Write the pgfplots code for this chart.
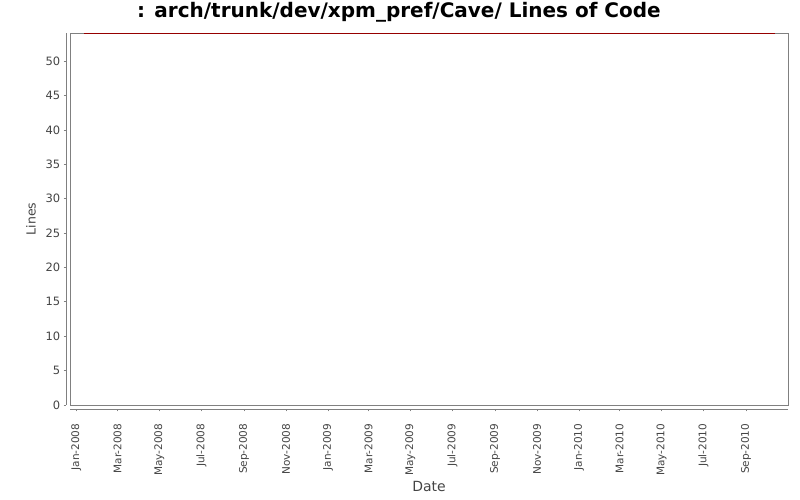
\documentclass[border=0pt]{standalone}
\usepackage{fontspec}
\setmainfont{DejaVu Sans}
\usepackage{pgfplots}
\pgfplotsset{compat=1.18}
\definecolor{linered}{RGB}{150,0,0}
\definecolor{axgray}{RGB}{128,128,128}
\definecolor{txtgray}{RGB}{68,68,68}
\begin{document}
\begin{tikzpicture}[x=1pt,y=1pt]
\useasboundingbox (0,0) rectangle (800,500);
\begin{axis}[
  at={(70pt,95pt)}, anchor=south west,
  width=718pt, height=372pt, scale only axis,
  xmin=-9, xmax=1035, ymin=0, ymax=54.1,
  axis lines*=left,
  axis x line shift=4pt, axis y line shift=4pt,
  axis line style={axgray, line width=0.8pt, -},
  axis background/.style={draw=axgray, line width=0.8pt},
  xtick={0,60,121,182,244,305,366,425,486,547,609,670,731,790,851,912,974},
  xticklabels={Jan-2008,Mar-2008,May-2008,Jul-2008,Sep-2008,Nov-2008,Jan-2009,Mar-2009,May-2009,Jul-2009,Sep-2009,Nov-2009,Jan-2010,Mar-2010,May-2010,Jul-2010,Sep-2010},
  x tick label style={yshift=-12pt, rotate=90, anchor=east, font=\fontsize{10.5}{12}\selectfont, text=txtgray, inner sep=0pt},
  ytick={0,5,...,50},
  y tick label style={font=\fontsize{11.5}{13}\selectfont, text=txtgray, inner sep=0pt, xshift=-3pt},
  /pgf/number format/assume math mode=true,
  tick style={axgray, line width=0.8pt},
  tick align=outside, major tick length=2.5pt,
  title={: arch/trunk/dev/xpm\_pref/Cave/ Lines of Code},
  title style={at={(axis description cs:0.4582,1.0376)}, anchor=base, yshift=-4pt, font=\fontsize{20}{23}\selectfont\bfseries},
  xlabel={Date},
  xlabel style={at={(axis description cs:0.5,-0.218)}, anchor=center, font=\fontsize{14}{16}\selectfont, text=txtgray},
  ylabel={Lines},
  ylabel style={at={(axis description cs:-0.0543,0.5)}, anchor=center, font=\fontsize{12.5}{14}\selectfont, text=txtgray},
  clip=false,
]
\addplot[linered, line width=1.2pt, no marks] coordinates {
  (11,54) (100,54) (250,54) (400,54) (550,54) (700,54) (850,54) (1016,54)
};
\end{axis}
\end{tikzpicture}
\end{document}
